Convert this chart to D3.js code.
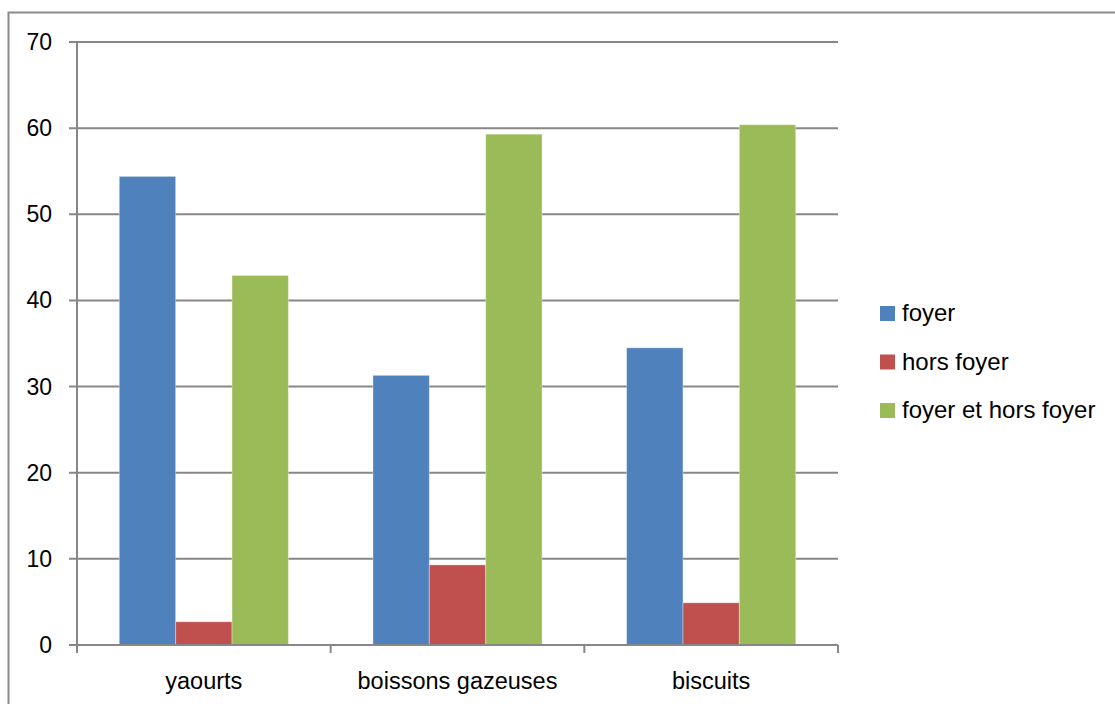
<!DOCTYPE html>
<html>
<head>
<meta charset="utf-8">
<script src="https://cdn.jsdelivr.net/npm/d3@7"></script>
<style>
    body { margin: 0; background: #fff; }
    svg { display: block; font-family: 'Liberation Sans', Arial, sans-serif; }
</style>
</head>
<body>
<svg id="chart" width="1115" height="704"></svg>
<script>
const categories = ["yaourts", "boissons gazeuses", "biscuits"];
const seriesNames = ["foyer", "hors foyer", "foyer et hors foyer"];
const foyer = [54.4, 31.3, 34.5];
const horsFoyer = [2.7, 9.3, 4.9];
const foyerEtHorsFoyer = [42.9, 59.3, 60.4];
const yTicks = [0, 10, 20, 30, 40, 50, 60, 70];

const seriesValues = [foyer, horsFoyer, foyerEtHorsFoyer];
const colors = ["#4F81BD", "#C0504D", "#9BBB59"];

const svg = d3.select("#chart");

// outer frame (runs off the right and bottom edges)
svg.append("rect")
    .attr("x", 8.5).attr("y", 12.5)
    .attr("width", 1120).attr("height", 700)
    .attr("fill", "none")
    .attr("stroke", "#8c8c8c")
    .attr("stroke-width", 2);

const plotLeft = 77, plotRight = 838, plotTop = 42, plotBottom = 645;

const x = d3.scaleBand()
    .domain(categories)
    .range([plotLeft, plotRight]);

const y = d3.scaleLinear()
    .domain([0, 70])
    .range([plotBottom, plotTop]);

// gridlines
svg.append("g")
    .selectAll("line")
    .data(yTicks)
    .join("line")
    .attr("x1", plotLeft - 8).attr("x2", plotRight)
    .attr("y1", d => y(d)).attr("y2", d => y(d))
    .attr("stroke", "#878787")
    .attr("stroke-width", 2);

// y axis line
svg.append("line")
    .attr("x1", plotLeft).attr("x2", plotLeft)
    .attr("y1", plotTop).attr("y2", plotBottom)
    .attr("stroke", "#878787")
    .attr("stroke-width", 2);

// y tick labels
svg.append("g")
    .selectAll("text")
    .data(yTicks)
    .join("text")
    .attr("x", 52)
    .attr("y", d => y(d))
    .attr("dy", "0.35em")
    .attr("text-anchor", "end")
    .attr("font-size", "23px")
    .attr("fill", "#000")
    .text(d => d);

// x axis tick marks at category boundaries
const boundaries = categories.map(c => x(c)).concat([plotRight]);
svg.append("g")
    .selectAll("line")
    .data(boundaries)
    .join("line")
    .attr("x1", d => d).attr("x2", d => d)
    .attr("y1", plotBottom).attr("y2", plotBottom + 8)
    .attr("stroke", "#878787")
    .attr("stroke-width", 2);

// bars: gap width 150% -> 3 bars + 1.5 bar gap per category
const barW = x.bandwidth() / 4.5;
const inner = d3.scaleBand()
    .domain(seriesNames)
    .range([0.75 * barW, x.bandwidth() - 0.75 * barW]);

const groups = svg.append("g")
    .selectAll("g")
    .data(categories)
    .join("g")
    .attr("transform", c => `translate(${x(c)},0)`);

groups.selectAll("rect")
    .data((c, ci) => seriesNames.map((s, si) => ({ s, si, v: seriesValues[si][ci] })))
    .join("rect")
    .attr("x", d => inner(d.s))
    .attr("width", inner.bandwidth())
    .attr("y", d => y(d.v))
    .attr("height", d => y(0) - y(d.v))
    .attr("fill", d => colors[d.si])
    .attr("stroke", "rgba(255,255,255,0.35)")
    .attr("stroke-width", 1);

// x axis line (drawn above bars)
svg.append("line")
    .attr("x1", plotLeft - 8).attr("x2", plotRight)
    .attr("y1", plotBottom).attr("y2", plotBottom)
    .attr("stroke", "#878787")
    .attr("stroke-width", 2);

// category labels
svg.append("g")
    .selectAll("text")
    .data(categories)
    .join("text")
    .attr("x", c => x(c) + x.bandwidth() / 2)
    .attr("y", 689)
    .attr("text-anchor", "middle")
    .attr("font-size", "23.5px")
    .attr("fill", "#000")
    .text(c => c);

// legend
const legend = svg.append("g")
    .selectAll("g")
    .data(seriesNames)
    .join("g")
    .attr("transform", (d, i) => `translate(880,${313 + i * 48.5})`);

legend.append("rect")
    .attr("x", 0).attr("y", -7)
    .attr("width", 15).attr("height", 15)
    .attr("fill", (d, i) => colors[i]);

legend.append("text")
    .attr("x", 22)
    .attr("y", 0)
    .attr("dy", "0.35em")
    .attr("font-size", "24px")
    .attr("fill", "#000")
    .text(d => d);
</script>
</body>
</html>
